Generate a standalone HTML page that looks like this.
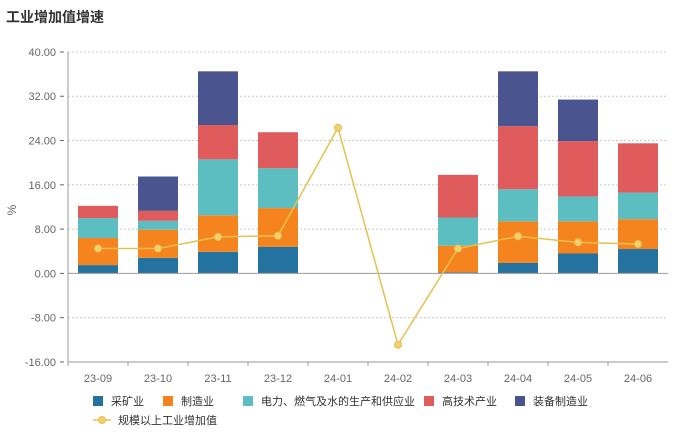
<!DOCTYPE html>
<html><head><meta charset="utf-8"><style>
body{margin:0;background:#fff;width:692px;height:439px;overflow:hidden;font-family:"Liberation Sans","Noto Sans CJK SC",sans-serif}
</style></head><body>
<svg id="c" width="692" height="439" xmlns="http://www.w3.org/2000/svg" font-family="Liberation Sans, Noto Sans CJK SC, sans-serif">
<text x="6" y="22" font-size="14" font-weight="bold" fill="#333">工业增加值增速</text>
</svg>
<script>
const s=document.getElementById('c');const NS='http://www.w3.org/2000/svg';
function el(t,a,txt){const e=document.createElementNS(NS,t);for(const k in a)e.setAttribute(k,a[k]);if(txt!=null)e.textContent=txt;s.appendChild(e);return e;}
const Y=v=>273.4-5.536*v;
const x0=68,x1=668,step=60;
for(let v=-16;v<=40;v+=8){const y=Y(v);
 if(v!==0)el('line',{x1:x0,x2:x1,y1:y,y2:y,stroke:'#ccc','stroke-dasharray':'2,2'});
 el('text',{x:56,y:y+4,'font-size':11,fill:'#666','text-anchor':'end'},v.toFixed(2));
 el('line',{x1:60,x2:64,y1:y,y2:y,stroke:'#666'});}
el('line',{x1:x0,x2:x0,y1:Y(40),y2:Y(-16),stroke:'#999'});
el('line',{x1:x0,x2:x1,y1:Y(-16),y2:Y(-16),stroke:'#999'});
el('text',{x:16,y:210,'font-size':12,fill:'#666','text-anchor':'middle',transform:'rotate(-90 16 210)'},'%');
const cats=['23-09','23-10','23-11','23-12','24-01','24-02','24-03','24-04','24-05','24-06'];
const cols=['#2372a0','#f5841f','#5cbec0','#e05c5c','#4a5590'];
const cum=[[1.5,6.4,10,12.2],[2.8,7.9,9.5,11.3,17.5],[3.9,10.5,20.6,26.8,36.5],[4.8,11.8,19,25.5],[],[],[0.2,5,10.1,17.8],[1.9,9.4,15.2,26.6,36.5],[3.6,9.4,13.9,23.9,31.4],[4.4,9.8,14.6,23.5]];
const line=[4.5,4.5,6.6,6.8,26.3,-12.9,4.5,6.7,5.6,5.3];
cats.forEach((c,i)=>{const cx=x0+30+i*step;
 el('line',{x1:x0+i*step,x2:x0+i*step,y1:Y(-16),y2:Y(-16)+4,stroke:'#999'});
 el('text',{x:cx,y:382,'font-size':11,fill:'#666','text-anchor':'middle'},c);
 let p=0;cum[i].forEach((v,j)=>{el('rect',{x:cx-20,y:Y(v),width:40,height:Y(p)-Y(v),fill:cols[j]});p=v;});});
el('line',{x1:x0,x2:x1,y1:Y(0),y2:Y(0),stroke:'#999'});
el('polyline',{points:line.map((v,i)=>(x0+30+i*step)+','+Y(v)).join(' '),fill:'none',stroke:'#e8c04f','stroke-width':1.5});
line.forEach((v,i)=>el('circle',{cx:x0+30+i*step,cy:Y(v),r:3.5,fill:'#f0d070',stroke:'#e8c04f'}));
const lg=[['采矿业',93],['制造业',163],['电力、燃气及水的生产和供应业',243],['高技术产业',424],['装备制造业',515]];
lg.forEach((l,j)=>{el('rect',{x:l[1],y:396,width:10,height:10,fill:cols[j]});el('text',{x:l[1]+18,y:405,'font-size':11,fill:'#333'},l[0]);});
el('line',{x1:93,x2:111,y1:420,y2:420,stroke:'#e8c04f','stroke-width':1.5});
el('circle',{cx:102,cy:420,r:3.5,fill:'#f0d070',stroke:'#e8c04f'});
el('text',{x:118,y:424,'font-size':11,fill:'#333'},'规模以上工业增加值');
</script>
</body></html>
